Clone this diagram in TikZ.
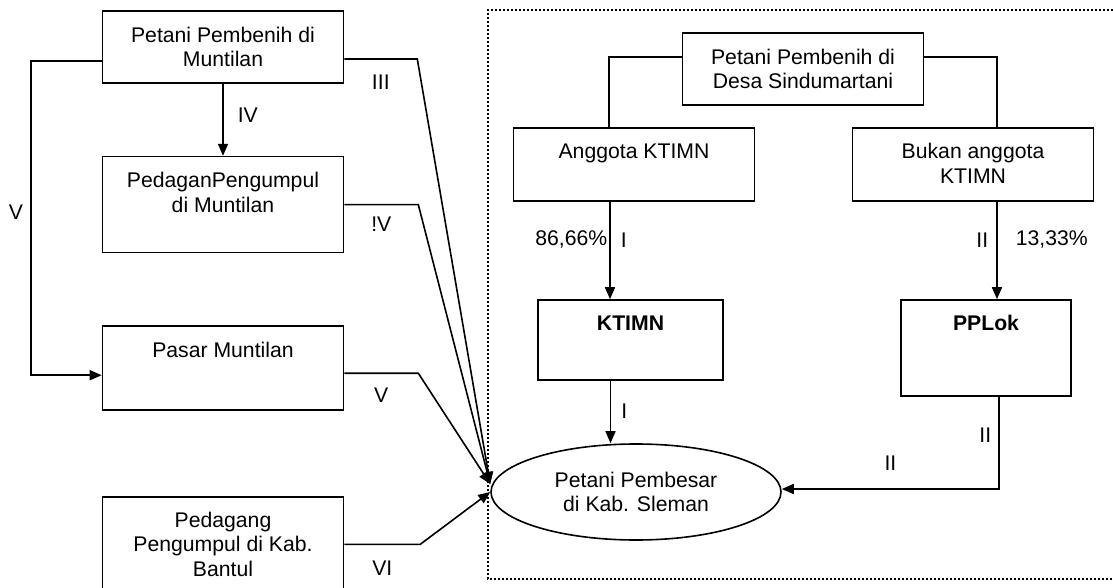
\documentclass[tikz,border=0pt]{standalone}
\usepackage{fontspec}
\setmainfont{Liberation Sans}
\usetikzlibrary{arrows.meta,shapes.geometric,positioning}
\tikzset{
  base/.style={font=\fontsize{10.6}{12.3}\selectfont, align=center},
  box/.style={rectangle, draw, line width=0.8pt, minimum width=120.5pt, inner sep=0pt, base},
  toptext/.style={label={[base, inner sep=0pt, anchor=north, yshift=-8pt]north:#1}},
  oval/.style={ellipse, draw, line width=0.8pt, minimum width=145pt, minimum height=48pt, inner sep=0pt, base},
  link/.style={line width=0.8pt},
  arrow/.style={-{Triangle[length=6pt, width=5pt]}, line width=0.8pt},
  lbl/.style={inner sep=0pt, base}
}

\begin{document}
\begin{tikzpicture}[x=0.5pt, y=-0.5pt]
    \useasboundingbox (0,0) rectangle (1113,588);
    % wilayah Sindumartani
    \draw[line width=0.8pt, dash pattern=on 1pt off 1pt] (1113,10) -- (488,10) -- (488,579) -- (1113,579);

    % Muntilan dan Bantul
    \node[box, minimum height=36pt] (muntilan) at (223,47) {Petani Pembenih di\\Muntilan};
    \node[box, minimum height=48pt, toptext={PedaganPengumpul\\di Muntilan}, below=36pt of muntilan] (pengumpul) {};
    \node[box, minimum height=42pt, toptext={Pasar Muntilan}, below=36pt of pengumpul] (pasar) {};
    \node[box, minimum height=47.5pt, below=42.5pt of pasar] (bantul) {Pedagang\\Pengumpul di Kab.\\Bantul};

    % Sindumartani
    \node[box, minimum height=36pt] (desa) at (803,69) {Petani Pembenih di\\Desa Sindumartani};
    \node[box, minimum height=36.5pt, toptext={Anggota KTIMN}] (anggota) at (634,164.5) {};
    \node[box, minimum height=36.5pt, toptext={Bukan anggota\\KTIMN}] (bukan) at (973,164.5) {};
    \node[box, minimum width=92.5pt, minimum height=40pt, toptext={\bfseries KTIMN}] (ktimn) at (630.5,340) {};
    \node[box, minimum width=85pt, minimum height=48pt, toptext={\bfseries PPLok}] (pplok) at (986,348) {};
    \node[oval] (sleman) at (636,492) {Petani Pembesar\\di Kab. Sleman};

    % saluran kiri
    \draw[arrow] (muntilan) -- (pengumpul) node[lbl, pos=.44, right=7pt] {IV};
    \draw[arrow] ([yshift=-7pt]muntilan.west) -- ++(-71,0) |- ([yshift=-3.5pt]pasar.west) node[lbl, pos=.24, left=3.5pt] {V};
    \draw[arrow] ([yshift=-6pt]muntilan.east) -- ++(73,0) node[lbl, midway, below=7.5pt] {III} -- ([yshift=4pt]sleman.west);
    \draw[arrow] (pengumpul.east) -- ++(74,0) node[lbl, midway, below=6pt] {!V} -- ([yshift=4pt]sleman.west);
    \draw[arrow] ([yshift=-2.5pt]pasar.east) -- ++(74,0) node[lbl, midway, below=7pt] {V} -- ([yshift=4pt]sleman.west);
    \draw[arrow] (bantul.east) -- ++(76,0) node[lbl, midway, below=8pt] {VI} -- (sleman.west);

    % saluran kanan
    \draw[link] ([yshift=6pt]desa.west) -| ([xshift=-12.5pt]anggota.north);
    \draw[link] ([yshift=6pt]desa.east) -| ([xshift=12pt]bukan.north);
    \draw[arrow] ([xshift=-12pt]anggota.south) -- ([xshift=-12pt]anggota.south |- ktimn.north)
        node[lbl, pos=.39, left=1pt] {86,66\%} node[lbl, pos=.39, right=5pt] {I};
    \draw[arrow] ([xshift=12pt]bukan.south) -- ([xshift=12pt]bukan.south |- pplok.north)
        node[lbl, pos=.39, left=4pt] {II} node[lbl, pos=.39, right=9pt] {13,33\%};
    \draw[arrow] ([xshift=-10pt]ktimn.south) -- ([xshift=-10pt]ktimn.south |- sleman.north)
        node[lbl, pos=.49, right=5pt] {I};
    \draw[arrow] ([xshift=6.5pt]pplok.south) |- ([yshift=1.5pt]sleman.east)
        node[lbl, pos=.21, left=3.5pt] {II} node[lbl, pos=.75, above=9pt] {II};
\end{tikzpicture}
\end{document}
